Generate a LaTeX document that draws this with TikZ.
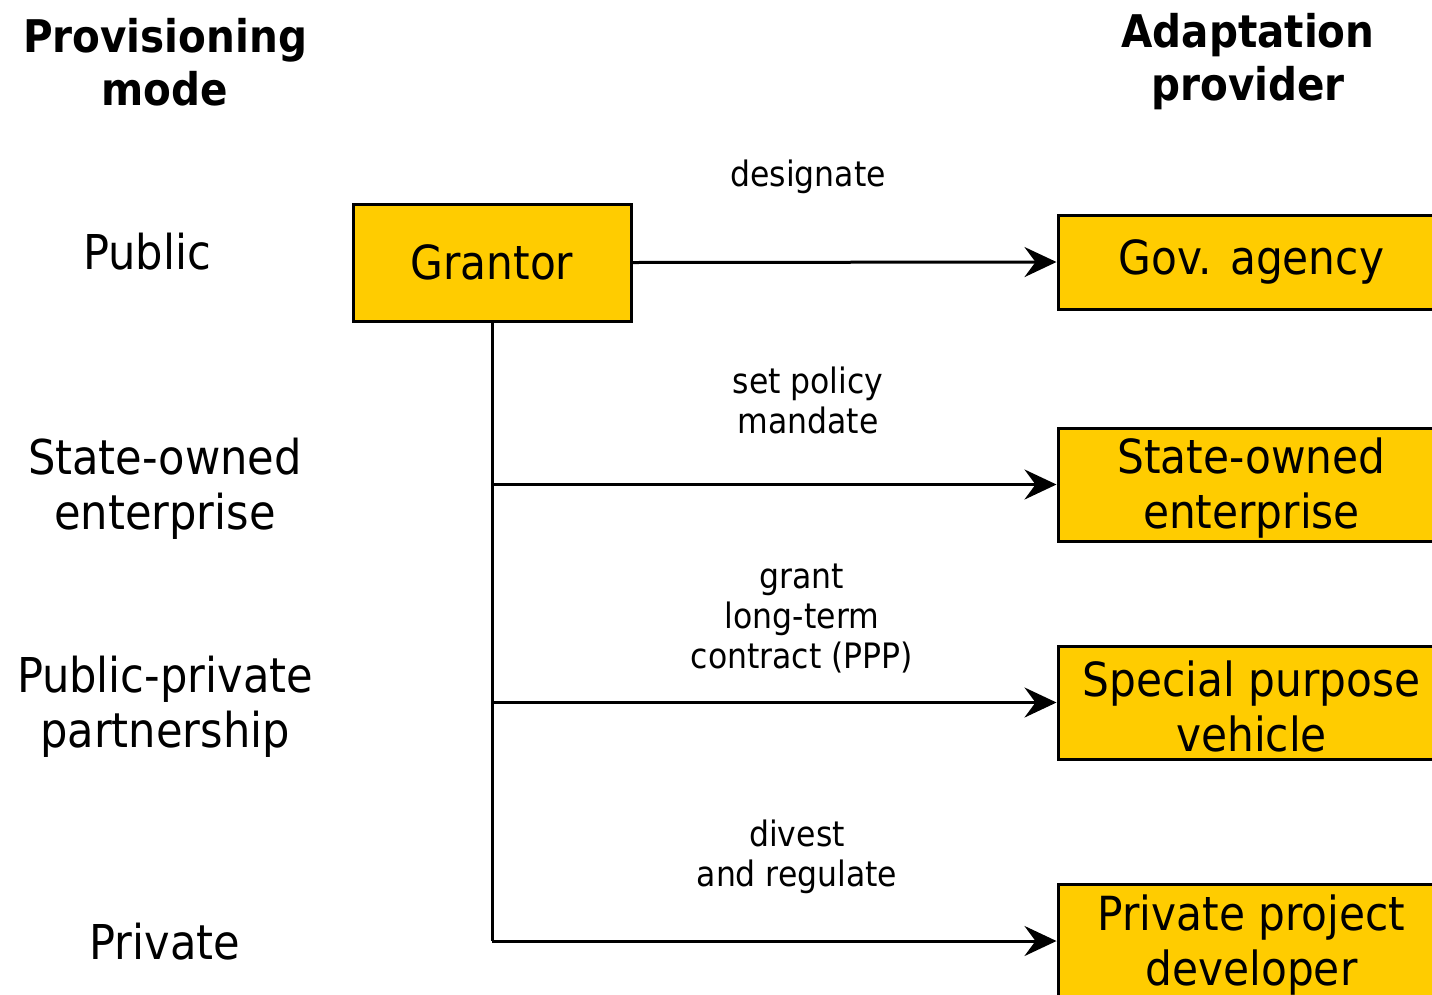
\documentclass[tikz,border=0pt]{standalone}
\usepackage{fontspec}
\setmainfont{DejaVu Sans Condensed}
\usetikzlibrary{arrows.meta}
\definecolor{boxfill}{HTML}{FFCC00}
% two-line box text, set a little below the box centre
\newcommand{\boxlines}[2]{\raisebox{-4pt}[\height][\depth]{\parbox{380pt}{\centering #1\\#2}}}
\begin{document}
\begin{tikzpicture}[x=1pt,y=-1pt,
  box/.style={draw=black,line width=3pt,fill=boxfill,inner sep=0pt,align=center,
    font=\fontsize{47}{55}\selectfont},
  rowlabel/.style={align=center,font=\fontsize{48}{55}\selectfont},
  header/.style={align=center,font=\fontsize{45}{53}\bfseries\selectfont},
  edgelabel/.style={align=center,font=\fontsize{35}{40}\selectfont},
  link/.style={line width=3pt},
  arrowlink/.style={line width=3pt,-{Stealth[length=32pt,width=30pt,inset=11pt]}}]
\useasboundingbox (0,0) rectangle (1432,994);
\clip (0,0) rectangle (1432,994);

% column headers
\node[header] (hleft) at (165,62) {Provisioning\\mode};
\node[header] (hright) at (1248,62) {Adaptation\\provider};

% provisioning modes
\node[rowlabel] (mpub) at (147,252) {Public};
\node[rowlabel] (msoe) at (165,489) {State-owned\\enterprise};
\node[rowlabel] (mppp) at (165,707) {Public-private\\partnership};
\node[rowlabel] (mpriv) at (165,942) {Private};

% grantor and providers
\node[box,minimum width=278pt,minimum height=117pt] (grantor) at (492,262.5) {Grantor};
\node[box,minimum width=387pt,minimum height=94pt] (gov) at (1251.5,262) {Gov. agency};
\node[box,minimum width=387pt,minimum height=113pt] (soe) at (1251.5,484.5)
  {\boxlines{State-owned}{enterprise}};
\node[box,minimum width=387pt,minimum height=113pt] (spv) at (1251.5,702.5)
  {\boxlines{Special purpose}{vehicle}};
\node[box,minimum width=387pt,minimum height=114pt] (ppd) at (1251.5,941)
  {\boxlines{Private project}{developer}};

% branch points on the grantor's trunk line
\coordinate (j1) at (492,484.5);
\coordinate (j2) at (492,702.5);
\coordinate (j3) at (492,941);

% connectors
\draw[arrowlink] (grantor.east) -- (gov.west);
\draw[link] (grantor.south) -- (j3);
\draw[arrowlink] (j1) -- (soe.west);
\draw[arrowlink] (j2) -- (spv.west);
\draw[arrowlink] (j3) -- (ppd.west);

% connector labels
\node[edgelabel] (ldes) at (808,177) {designate};
\node[edgelabel] (lset) at (808,400) {set policy\\mandate};
\node[edgelabel] (lgrant) at (802,619) {grant\\long-term\\contract (PPP)};
\node[edgelabel] (ldiv) at (797,857) {divest\\and regulate};
\end{tikzpicture}
\end{document}
